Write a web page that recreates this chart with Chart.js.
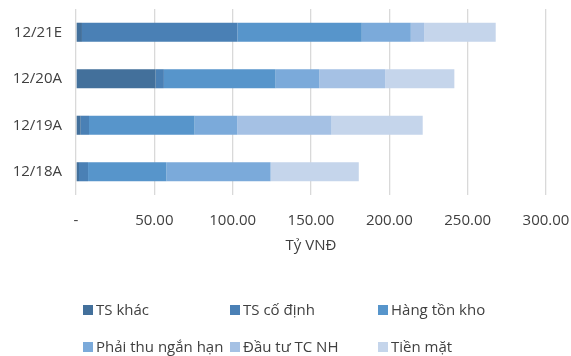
<!DOCTYPE html>
<html>
<head>
<meta charset="utf-8">
<script src="https://cdn.jsdelivr.net/npm/chart.js@4.4.1/dist/chart.umd.min.js"></script>
<style>
  html, body { margin: 0; padding: 0; background: #ffffff; }
  #wrap { width: 571px; height: 356px; position: relative; }
</style>
</head>
<body>
<div id="wrap"><canvas id="c" width="571" height="356"></canvas></div>
<script>
// Periods, top to bottom
const categories = ['12/21E', '12/20A', '12/19A', '12/18A'];

// Asset structure by component (Tỷ VNĐ), same order as categories
const tsKhac      = [3.8, 50.8, 3.0, 1.9];
const tsCoDinh    = [99.2, 5.3, 5.3, 5.8];
const hangTonKho  = [79.4, 71.3, 67.4, 50.0];
const phaiThuNH   = [31.3, 27.8, 27.3, 66.5];
const dauTuTCNH   = [8.5, 42.1, 60.1, 0];
const tienMat     = [45.7, 44.2, 58.2, 56.3];

const seriesNames = ['TS khác', 'TS cố định', 'Hàng tồn kho', 'Phải thu ngắn hạn', 'Đầu tư TC NH', 'Tiền mặt'];
const seriesValues = [tsKhac, tsCoDinh, hangTonKho, phaiThuNH, dauTuTCNH, tienMat];
const seriesColors = ['#43709B', '#4A80B5', '#5795CB', '#7BAADA', '#A5C1E4', '#C5D5EB'];

// x-axis range
const xMin = 0, xMax = 300, xStep = 50;

const FONT = '"Open Sans", "Noto Sans", sans-serif';
const TEXT = '#404040';

// Legend laid out as a 3-column grid under the plot
const gridLegend = {
  id: 'gridLegend',
  afterDraw(chart) {
    const ctx = chart.ctx;
    const cols = [83, 230, 378];
    const rows = [310, 347];
    ctx.save();
    ctx.font = '15px ' + FONT;
    ctx.textBaseline = 'middle';
    ctx.textAlign = 'left';
    chart.data.datasets.forEach((ds, i) => {
      const x = cols[i % 3];
      const y = rows[Math.floor(i / 3)];
      ctx.fillStyle = ds.backgroundColor;
      ctx.fillRect(x, y - 5, 10, 10);
      ctx.fillStyle = TEXT;
      ctx.fillText(ds.label, x + 13, y + 1);
    });
    ctx.restore();
  }
};

new Chart(document.getElementById('c'), {
  type: 'bar',
  data: {
    labels: categories,
    datasets: seriesNames.map((name, i) => ({
      label: name,
      data: seriesValues[i],
      backgroundColor: seriesColors[i],
      borderWidth: 0,
      barPercentage: 0.41,
      categoryPercentage: 1.0
    }))
  },
  options: {
    indexAxis: 'y',
    responsive: false,
    animation: false,
    layout: { padding: { left: 0, right: 25, top: 9, bottom: 101 } },
    plugins: {
      legend: { display: false },
      tooltip: { enabled: false }
    },
    scales: {
      x: {
        stacked: true,
        min: xMin,
        max: xMax,
        ticks: {
          stepSize: xStep,
          padding: 17,
          color: TEXT,
          font: { family: FONT, size: 15 },
          maxRotation: 0,
          callback: (v) => (v === 0 ? '-' : Number(v).toFixed(2))
        },
        grid: { color: '#D9D9D9', lineWidth: 1.3, drawTicks: false },
        border: { display: false },
        title: {
          display: true,
          text: 'Tỷ VNĐ',
          color: TEXT,
          font: { family: FONT, size: 15 },
          padding: { top: 6, bottom: 0 }
        },
        afterFit(scale) {
          scale.height = 60;
          scale.paddingLeft = 0;
          scale.paddingRight = 0;
        }
      },
      y: {
        stacked: true,
        ticks: {
          padding: 14,
          color: TEXT,
          font: { family: FONT, size: 15 }
        },
        grid: { display: false, drawTicks: false },
        border: { display: false },
        afterFit(scale) {
          scale.width = 76;
          scale.paddingTop = 0;
          scale.paddingBottom = 0;
        }
      }
    }
  },
  plugins: [gridLegend]
});
</script>
</body>
</html>
